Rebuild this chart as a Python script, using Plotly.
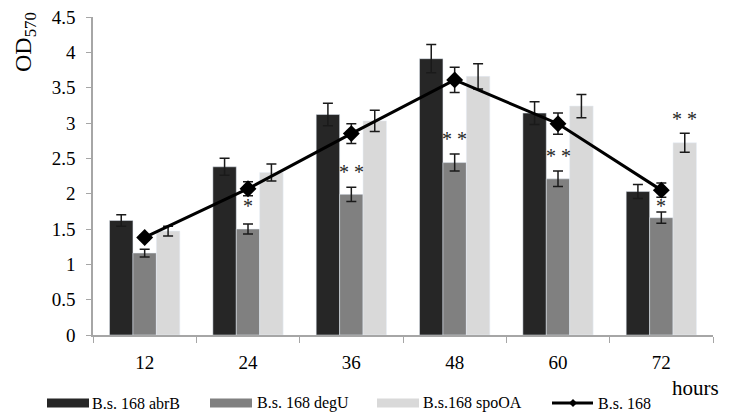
import plotly.graph_objects as go

categories = ["12", "24", "36", "48", "60", "72"]
abrB = [1.62, 2.38, 3.12, 3.91, 3.14, 2.03]
abrB_err = [0.08, 0.12, 0.16, 0.20, 0.16, 0.10]
degU = [1.16, 1.50, 1.99, 2.44, 2.21, 1.66]
degU_err = [0.055, 0.07, 0.10, 0.12, 0.11, 0.08]
spoOA = [1.47, 2.30, 3.03, 3.66, 3.24, 2.72]
spoOA_err = [0.07, 0.12, 0.15, 0.18, 0.165, 0.135]
wt = [1.38, 2.07, 2.85, 3.61, 2.99, 2.05]
wt_err = [0.04, 0.10, 0.14, 0.18, 0.15, 0.10]

# significance marks: category, height, text, bar offset (0 = degU, 1 = spoOA)
sig_cat = ["24", "36", "48", "60", "72", "72"]
sig_y = [1.82, 2.31, 2.77, 2.54, 1.82, 3.05]
sig_txt = ["*", "**", "**", "**", "*", "**"]
sig_bar = [0, 0, 0, 0, 0, 1]

series_names = ["B.s. 168 abrB", "B.s. 168 degU", "B.s.168 spoOA", "B.s. 168"]
bar_colors = ["#262626", "#808080", "#d9d9d9"]

FONT = "Liberation Serif, Times New Roman, serif"
err_style = dict(type="data", color="#1a1a1a", thickness=1.5, width=5)

# page offset (default body margin) compensation
OFF = 8
W, H = 731 - OFF, 419 - OFF
PL, PR, PT, PB = 93, 18, 17, 84          # plot edges on the page
L, R, T, B = PL - OFF, PR, PT - OFF, PB
pw, ph = W - L - R, H - T - B
def px(x): return (x - PL) / pw
def py(y): return (419 - PB - y) / ph

fig = go.Figure()
for name, vals, errs, col in zip(series_names[:3], [abrB, degU, spoOA],
                                 [abrB_err, degU_err, spoOA_err], bar_colors):
    fig.add_trace(go.Bar(x=categories, y=vals, name=name, marker_color=col,
                         error_y=dict(array=errs, **err_style)))
fig.add_trace(go.Scatter(x=categories, y=wt, name=series_names[3], mode="lines+markers",
                         line=dict(color="black", width=3),
                         marker=dict(symbol="diamond", size=13, color="black"),
                         error_y=dict(array=wt_err, **err_style)))

bar_px = 23.4
for c, y, t, b in zip(sig_cat, sig_y, sig_txt, sig_bar):
    fig.add_annotation(x=categories.index(c), y=y, text=" ".join(t), showarrow=False,
                       xshift=b * bar_px, font=dict(family=FONT, size=20, color="#262626"))

fig.add_annotation(xref="paper", yref="paper", x=px(721), y=py(388), text="hours", showarrow=False,
                   xanchor="right", yanchor="middle", font=dict(family=FONT, size=21, color="black"))

fig.add_annotation(xref="paper", yref="paper", x=px(25), y=py(42), text="OD<sub>570</sub>",
                   showarrow=False, textangle=-90, xanchor="center", yanchor="middle",
                   borderpad=0, font=dict(family=FONT, size=24, color="black"))

# custom legend (wide swatches like the original)
leg_y = 403
sw_x = [47, 210, 377]
tx_x = [91, 256, 422]
for xs, xt, col, name in zip(sw_x, tx_x, bar_colors, series_names[:3]):
    fig.add_shape(type="rect", xref="paper", yref="paper", x0=px(xs), x1=px(xs + 42),
                  y0=py(leg_y + 4.5), y1=py(leg_y - 4.5), fillcolor=col, line_width=0)
    fig.add_annotation(xref="paper", yref="paper", x=px(xt), y=py(leg_y), text=name,
                       showarrow=False, xanchor="left", yanchor="middle", borderpad=0,
                       font=dict(family=FONT, size=16, color="black"))
lx = 552
fig.add_shape(type="line", xref="paper", yref="paper", x0=px(lx), x1=px(lx + 41),
              y0=py(leg_y), y1=py(leg_y), line=dict(color="black", width=3))
fig.add_shape(type="path", xref="paper", yref="paper",
              path=f"M {px(lx+21)} {py(leg_y-4)} L {px(lx+25)} {py(leg_y)} L {px(lx+21)} {py(leg_y+4)} L {px(lx+17)} {py(leg_y)} Z",
              fillcolor="black", line_width=0)
fig.add_annotation(xref="paper", yref="paper", x=px(597), y=py(leg_y), text=series_names[3],
                   showarrow=False, xanchor="left", yanchor="middle", borderpad=0,
                   font=dict(family=FONT, size=16, color="black"))

fig.update_layout(
    width=W, height=H,
    margin=dict(l=L, r=R, t=T, b=B, autoexpand=False),
    paper_bgcolor="white", plot_bgcolor="white",
    barmode="group", bargap=0.32, bargroupgap=0,
    font=dict(family=FONT, size=19, color="black"),
    showlegend=False,
)
fig.update_xaxes(type="category", showline=True, linecolor="#a6a6a6", linewidth=1.5,
                 ticks="outside", tickson="boundaries", ticklen=6, tickcolor="#a6a6a6",
                 showgrid=False, tickfont=dict(family=FONT, size=19), automargin=False,
                 ticklabelstandoff=9, ticklabeloverflow="allow")
fig.update_yaxes(range=[0, 4.5], dtick=0.5, showline=True, linecolor="#a6a6a6", linewidth=1.5,
                 ticks="outside", ticklen=5, tickcolor="#a6a6a6", showgrid=False,
                 tickformat="~g", tickfont=dict(family=FONT, size=19), automargin=False,
                 ticklabelstandoff=7, ticklabeloverflow="allow")

fig.write_html("out.html")
